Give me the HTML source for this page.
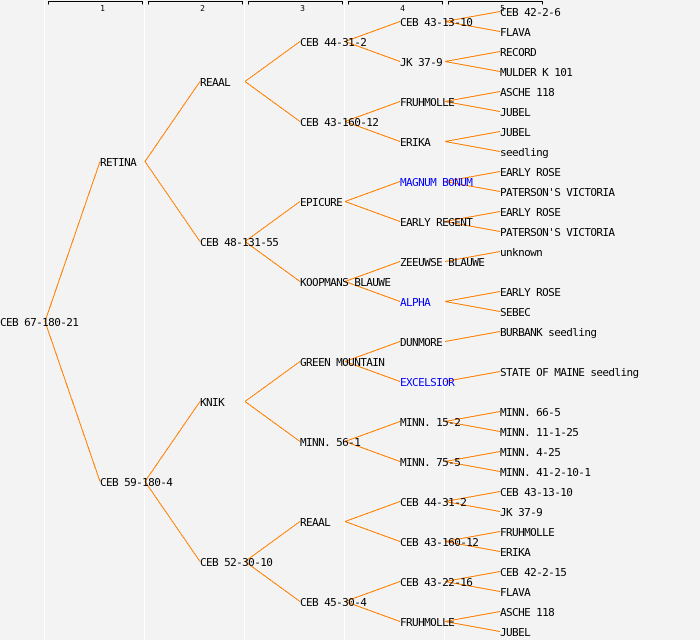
<!DOCTYPE html>
<html><head><meta charset="utf-8"><style>
html,body{margin:0;padding:0;background:#f3f3f3;}
svg{display:block;}
text{font-family:"DejaVu Sans Mono","Liberation Mono",monospace;font-size:11px;letter-spacing:-0.6px;fill:#000;}
text.b{fill:#0000ff;}
text.h{font-size:8px;letter-spacing:0;}
</style></head><body>
<svg width="700" height="640" viewBox="0 0 700 640" xmlns="http://www.w3.org/2000/svg">
<rect x="0" y="0" width="700" height="640" fill="#f3f3f3"/>
<g fill="#ffffff">
<rect x="44" y="0" width="1" height="640"/>
<rect x="144" y="0" width="1" height="640"/>
<rect x="244" y="0" width="1" height="640"/>
<rect x="344" y="0" width="1" height="640"/>
<rect x="444" y="0" width="1" height="640"/>
</g>
<g stroke="#000" stroke-width="1" fill="none" shape-rendering="crispEdges">
<path d="M48.5 4.5V1.5H142.5V4.5"/>
<path d="M148.5 4.5V1.5H242.5V4.5"/>
<path d="M248.5 4.5V1.5H342.5V4.5"/>
<path d="M348.5 4.5V1.5H442.5V4.5"/>
<path d="M448.5 4.5V1.5H542.5V4.5"/>
</g>
<text class="h" x="102.5" y="11" text-anchor="middle">1</text>
<text class="h" x="202.5" y="11" text-anchor="middle">2</text>
<text class="h" x="302.5" y="11" text-anchor="middle">3</text>
<text class="h" x="402.5" y="11" text-anchor="middle">4</text>
<text class="h" x="502.5" y="11" text-anchor="middle">5</text>

<g stroke="#ff8000" stroke-width="1" fill="none" shape-rendering="crispEdges">
<path d="M45 321.5L100 161.5M45 321.5L100 481.5"/>
<path d="M145 161.5L200 81.5M145 161.5L200 241.5M145 481.5L200 401.5M145 481.5L200 561.5"/>
<path d="M245 81.5L300 41.5M245 81.5L300 121.5M245 241.5L300 201.5M245 241.5L300 281.5M245 401.5L300 361.5M245 401.5L300 441.5M245 561.5L300 521.5M245 561.5L300 601.5"/>
<path d="M345 41.5L400 21.5M345 41.5L400 61.5M345 121.5L400 101.5M345 121.5L400 141.5M345 201.5L400 181.5M345 201.5L400 221.5M345 281.5L400 261.5M345 281.5L400 301.5M345 361.5L400 341.5M345 361.5L400 381.5M345 441.5L400 421.5M345 441.5L400 461.5M345 521.5L400 501.5M345 521.5L400 541.5M345 601.5L400 581.5M345 601.5L400 621.5"/>
<path d="M445 21.5L500 11.5M445 21.5L500 31.5M445 61.5L500 51.5M445 61.5L500 71.5M445 101.5L500 91.5M445 101.5L500 111.5M445 141.5L500 131.5M445 141.5L500 151.5M445 181.5L500 171.5M445 181.5L500 191.5M445 221.5L500 211.5M445 221.5L500 231.5M445 261.5L500 251.5M445 301.5L500 291.5M445 301.5L500 311.5M445 341.5L500 331.5M445 381.5L500 371.5M445 421.5L500 411.5M445 421.5L500 431.5M445 461.5L500 451.5M445 461.5L500 471.5M445 501.5L500 491.5M445 501.5L500 511.5M445 541.5L500 531.5M445 541.5L500 551.5M445 581.5L500 571.5M445 581.5L500 591.5M445 621.5L500 611.5M445 621.5L500 631.5"/>
</g>

<text x="0" y="326">CEB 67-180-21</text>
<text x="100" y="166">RETINA</text>
<text x="100" y="486">CEB 59-180-4</text>
<text x="200" y="86">REAAL</text>
<text x="200" y="246">CEB 48-131-55</text>
<text x="200" y="406">KNIK</text>
<text x="200" y="566">CEB 52-30-10</text>
<text x="300" y="46">CEB 44-31-2</text>
<text x="300" y="126">CEB 43-160-12</text>
<text x="300" y="206">EPICURE</text>
<text x="300" y="286">KOOPMANS BLAUWE</text>
<text x="300" y="366">GREEN MOUNTAIN</text>
<text x="300" y="446">MINN. 56-1</text>
<text x="300" y="526">REAAL</text>
<text x="300" y="606">CEB 45-30-4</text>
<text x="400" y="26">CEB 43-13-10</text>
<text x="400" y="66">JK 37-9</text>
<text x="400" y="106">FRUHMOLLE</text>
<text x="400" y="146">ERIKA</text>
<text class="b" x="400" y="186">MAGNUM BONUM</text>
<text x="400" y="226">EARLY REGENT</text>
<text x="400" y="266">ZEEUWSE BLAUWE</text>
<text class="b" x="400" y="306">ALPHA</text>
<text x="400" y="346">DUNMORE</text>
<text class="b" x="400" y="386">EXCELSIOR</text>
<text x="400" y="426">MINN. 15-2</text>
<text x="400" y="466">MINN. 75-5</text>
<text x="400" y="506">CEB 44-31-2</text>
<text x="400" y="546">CEB 43-160-12</text>
<text x="400" y="586">CEB 43-22-16</text>
<text x="400" y="626">FRUHMOLLE</text>
<text x="500" y="16">CEB 42-2-6</text>
<text x="500" y="36">FLAVA</text>
<text x="500" y="56">RECORD</text>
<text x="500" y="76">MULDER K 101</text>
<text x="500" y="96">ASCHE 118</text>
<text x="500" y="116">JUBEL</text>
<text x="500" y="136">JUBEL</text>
<text x="500" y="156">seedling</text>
<text x="500" y="176">EARLY ROSE</text>
<text x="500" y="196">PATERSON'S VICTORIA</text>
<text x="500" y="216">EARLY ROSE</text>
<text x="500" y="236">PATERSON'S VICTORIA</text>
<text x="500" y="256">unknown</text>
<text x="500" y="296">EARLY ROSE</text>
<text x="500" y="316">SEBEC</text>
<text x="500" y="336">BURBANK seedling</text>
<text x="500" y="376">STATE OF MAINE seedling</text>
<text x="500" y="416">MINN. 66-5</text>
<text x="500" y="436">MINN. 11-1-25</text>
<text x="500" y="456">MINN. 4-25</text>
<text x="500" y="476">MINN. 41-2-10-1</text>
<text x="500" y="496">CEB 43-13-10</text>
<text x="500" y="516">JK 37-9</text>
<text x="500" y="536">FRUHMOLLE</text>
<text x="500" y="556">ERIKA</text>
<text x="500" y="576">CEB 42-2-15</text>
<text x="500" y="596">FLAVA</text>
<text x="500" y="616">ASCHE 118</text>
<text x="500" y="636">JUBEL</text>
</svg>
</body></html>
